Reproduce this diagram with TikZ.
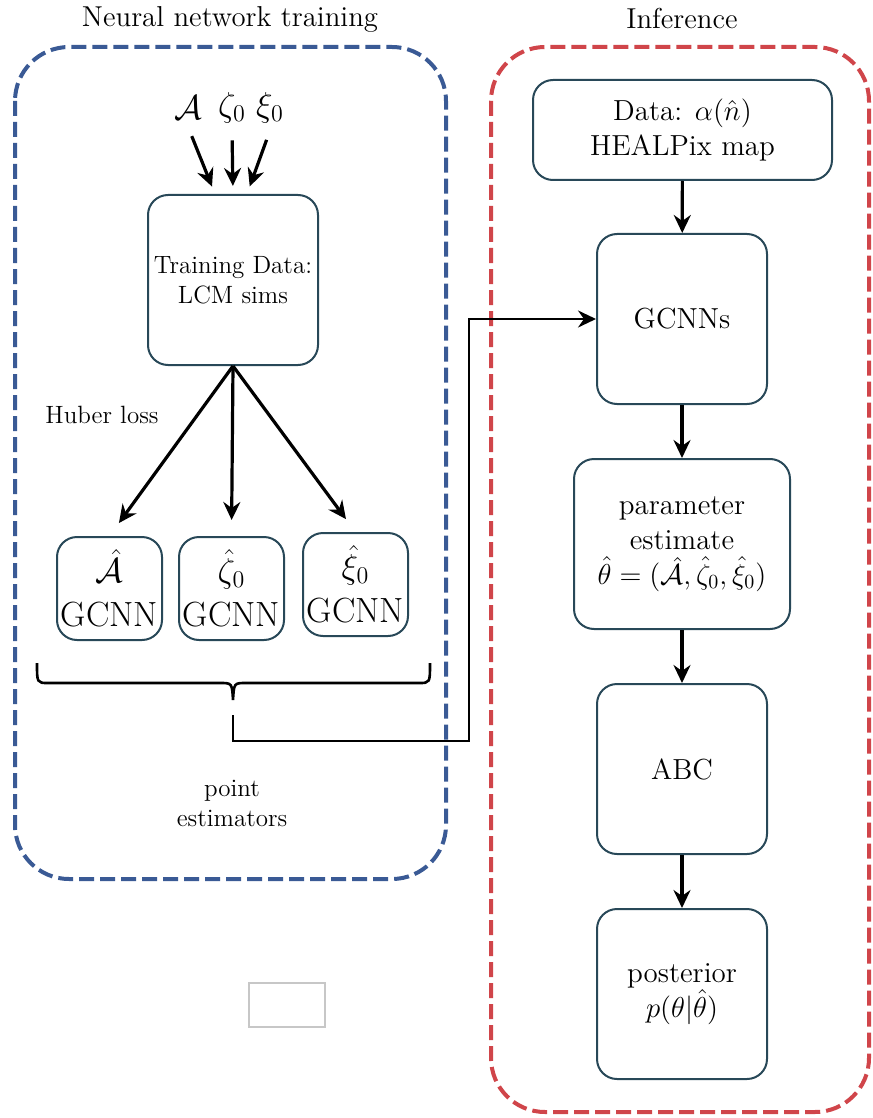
\documentclass[tikz,border=0pt]{standalone}
\usepackage{amsmath,amssymb}
\usetikzlibrary{arrows.meta}
\definecolor{trainblue}{RGB}{58,90,149}
\definecolor{infred}{RGB}{208,69,74}
\definecolor{boxteal}{RGB}{40,72,88}
\def\estbox(#1,#2,#3,#4){
  \node[est] (#1) at (#2,#3) {#4\\GCNN};
  \draw[arr, shorten >=8pt] (train.south) -- (#1.north);
}

\begin{document}
\begin{tikzpicture}[x=0.5pt,y=-0.5pt,
  box/.style={draw=boxteal, line width=1pt, rounded corners=10pt, align=center, inner sep=0pt, font=\fontsize{14.5}{17.5}\selectfont},
  est/.style={box, minimum width=52.5pt, minimum height=51.5pt, font=\fontsize{17.5}{22}\selectfont},
  arr/.style={-{Stealth[length=9pt,width=8.5pt,inset=3pt]}, line width=1.6pt},
  frame/.style={line width=2pt, dash pattern=on 7.5pt off 3pt, rounded corners=27pt},
  small/.style={font=\fontsize{12.5}{15}\selectfont, align=center},
  title/.style={font=\fontsize{14.4}{17}\selectfont},
  param/.style={font=\fontsize{16.5}{20}\selectfont}]
\useasboundingbox (0,0) rectangle (872,1118);
\draw[frame, trainblue] (15,47) rectangle (446,879);
\draw[frame, infred] (491,47) rectangle (869,1112);
\node[title] (ttrain) at (230,19) {Neural network training};
\node[title] (tinf) at (682,19) {Inference};

\node[box, minimum width=85pt, minimum height=85pt, small] (train) at (233,280) {Training Data:\\LCM sims};
\node[param] (la) at (188,108) {$\mathcal{A}$};
\node[param] (lz) at (232,108) {$\zeta_0$};
\node[param] (lx) at (270,108) {$\xi_0$};
\draw[arr, shorten <=5pt, shorten >=4pt] (la.south) -- ([xshift=-9pt]train.north);
\draw[arr, shorten <=5pt, shorten >=4pt] (lz.south) -- (train.north);
\draw[arr, shorten <=5pt, shorten >=4pt] (lx.south) -- ([xshift=7pt]train.north);

\node[small] (huber) at (102,415) {Huber loss};
\estbox(ga,109.5,588.5,$\hat{\mathcal{A}}$)
\estbox(gz,231.5,588.5,$\hat{\zeta}_0$)
\estbox(gx,355.5,584.5,$\hat{\xi}_0$)

% brace under the three estimators
\draw[line width=1.3pt] (37,663) .. controls (37,683) .. (48,683) -- (220,683)
  .. controls (232,683) .. (233,700) .. controls (234,683) .. (246,683)
  -- (419,683) .. controls (430,683) .. (430,663);
\coordinate (brtip) at (233,715);
\coordinate (turn) at (469,741);
\node[small] (pest) at (232,803) {point\\estimators};

\node[box, minimum width=149.5pt, minimum height=50pt] (data) at (682.5,130) {Data: $\alpha(\hat{n})$\\HEALPix map};
\node[box, minimum width=85pt, minimum height=85pt] (gcnns) at (682,319) {GCNNs};
\node[box, minimum width=108pt, minimum height=85pt] (param) at (682,544) {parameter\\estimate\\$\hat{\theta}=(\hat{\mathcal{A}},\hat{\zeta}_0,\hat{\xi}_0)$};
\node[box, minimum width=85pt, minimum height=85pt] (abc) at (682,769) {ABC};
\node[box, minimum width=85pt, minimum height=85pt] (post) at (682,994) {posterior\\$p(\theta|\hat{\theta})$};
\draw[arr] (data) -- (gcnns);
\draw[arr] (gcnns) -- (param);
\draw[arr] (param) -- (abc);
\draw[arr] (abc) -- (post);
\draw[arr, line width=1.4pt] (brtip) |- (turn) |- (gcnns.west);

\node[draw=black!22, line width=0.6pt, minimum width=38pt, minimum height=22pt, inner sep=0pt] (blank) at (287,1005) {};
\end{tikzpicture}
\end{document}
